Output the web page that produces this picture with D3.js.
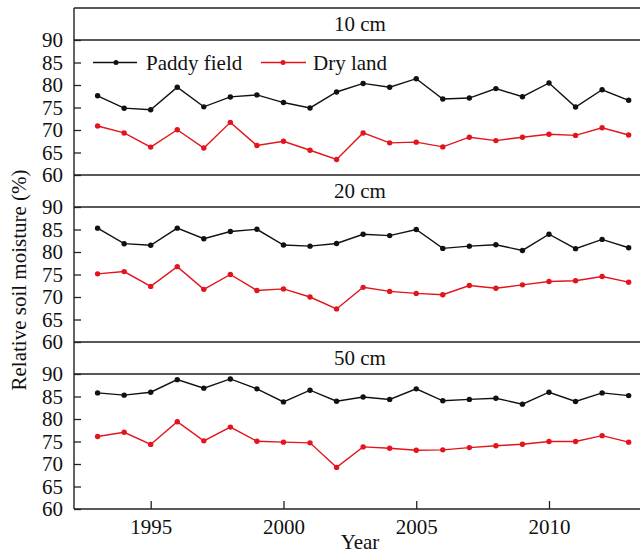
<html>
<script src='https://d3js.org/d3.v7.min.js'></script>
<style>
body {margin: 0; background: white;}
svg text {font-family: "Liberation Serif", "DejaVu Serif", serif; fill: #111;}
</style>
<body>
<svg width=640 height=555></svg>
<script>
var years = d3.range(1993, 2014);
var depths = ["10 cm", "20 cm", "50 cm"];
var paddy10 = [77.6,74.85,74.5,79.5,75.15,77.35,77.8,76.1,74.9,78.45,80.35,79.5,81.4,76.9,77.1,79.2,77.4,80.45,75.1,78.95,76.6];
var dry10   = [70.9,69.35,66.2,70.05,66.0,71.7,66.55,67.5,65.5,63.45,69.35,67.15,67.3,66.25,68.4,67.65,68.4,69.05,68.8,70.5,68.9];
var paddy20 = [85.3,81.85,81.5,85.3,82.95,84.55,85.05,81.55,81.3,81.9,83.95,83.65,85.0,80.8,81.3,81.6,80.35,83.95,80.75,82.8,80.95];
var dry20   = [75.15,75.65,72.35,76.75,71.7,75.0,71.45,71.8,70.0,67.35,72.15,71.25,70.8,70.5,72.55,71.95,72.7,73.45,73.6,74.55,73.3];
var paddy50 = [85.8,85.3,85.95,88.75,86.85,88.9,86.7,83.8,86.4,83.95,84.9,84.35,86.7,84.05,84.35,84.6,83.3,85.95,83.9,85.8,85.2];
var dry50   = [76.1,77.05,74.35,79.4,75.15,78.2,75.05,74.85,74.7,69.25,73.8,73.5,73.05,73.15,73.65,74.05,74.4,75.0,75.0,76.3,74.85];
var yTicks = [60, 65, 70, 75, 80, 85, 90];
var xTicks = [1995, 2000, 2005, 2010];
var seriesNames = ["Paddy field", "Dry land"];
var colors = ["#111", "#e3141c"];

var panels = [[paddy10, dry10], [paddy20, dry20], [paddy50, dry50]];

var left = 74, right = 646,
    top0 = 8, header = 32, plotH = 135,
    serif = "Liberation Serif";

var svg = d3.select("svg");
var x = d3.scaleLinear().domain([1995, 2010]).range([150.7, 549]);

panels.forEach(function(p, i) {
  var top = top0 + i * (header + plotH);
  var y = d3.scaleLinear().domain([60, 90]).range([top + header + plotH, top + header]);
  var g = svg.append("g");

  // frame lines
  g.append("line").attr("x1", left).attr("x2", right).attr("y1", top).attr("y2", top)
    .attr("stroke", "#222").attr("stroke-width", 1.4);
  g.append("line").attr("x1", left).attr("x2", right).attr("y1", top + header).attr("y2", top + header)
    .attr("stroke", "#222").attr("stroke-width", 1.4);
  g.append("line").attr("x1", left).attr("x2", left).attr("y1", top).attr("y2", top + header + plotH)
    .attr("stroke", "#222").attr("stroke-width", 1.4);

  g.append("text")
    .attr("x", (left + right) / 2).attr("y", top + 23)
    .attr("text-anchor", "middle").attr("font-family", serif).style("font-size", "21px")
    .text(depths[i]);

  var ax = g.append("g")
    .attr("transform", "translate(" + left + ",0)")
    .call(d3.axisLeft(y).tickValues(yTicks).tickSize(-7).tickPadding(11));
  ax.attr("font-family", serif);
  ax.select(".domain").remove();
  ax.selectAll("line").attr("stroke", "#222").attr("stroke-width", 1.3);
  ax.selectAll("text").style("font-size", "21px").attr("fill", "#111");

  p.forEach(function(vals, s) {
    var line = d3.line().x(function(d, k) { return x(years[k]); }).y(function(d) { return y(d); });
    g.append("path").datum(vals).attr("d", line)
      .attr("fill", "none").attr("stroke", colors[s]).attr("stroke-width", 1.4);
    g.selectAll(".pt" + s).data(vals).enter().append("circle")
      .attr("cx", function(d, k) { return x(years[k]); })
      .attr("cy", function(d) { return y(d); })
      .attr("r", 2.7).attr("fill", colors[s]);
  });

  if (i == 0) {
    var ly = y(85);
    var legX = [[93, 137, 116, 146], [261, 306, 283, 313]];
    legX.forEach(function(l, s) {
      g.append("line").attr("x1", l[0]).attr("x2", l[1]).attr("y1", ly).attr("y2", ly)
        .attr("stroke", colors[s]).attr("stroke-width", 1.4);
      g.append("circle").attr("cx", l[2]).attr("cy", ly).attr("r", 2.5).attr("fill", colors[s]);
      g.append("text").attr("x", l[3]).attr("y", ly + 7)
        .attr("font-family", serif).style("font-size", "21px").text(seriesNames[s]);
    });
  }

  if (i == 2) {
    var base = top + header + plotH;
    g.append("line").attr("x1", left).attr("x2", right).attr("y1", base).attr("y2", base)
      .attr("stroke", "#222").attr("stroke-width", 1.4);
    var xa = g.append("g")
      .attr("transform", "translate(0," + base + ")")
      .call(d3.axisBottom(x).tickValues(xTicks).tickFormat(d3.format("d")).tickSize(-8).tickPadding(10));
    xa.attr("font-family", serif);
    xa.select(".domain").remove();
    xa.selectAll("line").attr("stroke", "#222").attr("stroke-width", 1.3);
    xa.selectAll("text").style("font-size", "21px").attr("fill", "#111");
  }
});

svg.append("text")
  .attr("x", (left + right) / 2).attr("y", 549)
  .attr("text-anchor", "middle").attr("font-family", serif).style("font-size", "21px")
  .text("Year");

svg.append("text")
  .attr("transform", "translate(26,280) rotate(-90)")
  .attr("text-anchor", "middle").attr("font-family", serif).style("font-size", "21px")
  .text("Relative soil moisture (%)");
</script>
</body>
</html>
